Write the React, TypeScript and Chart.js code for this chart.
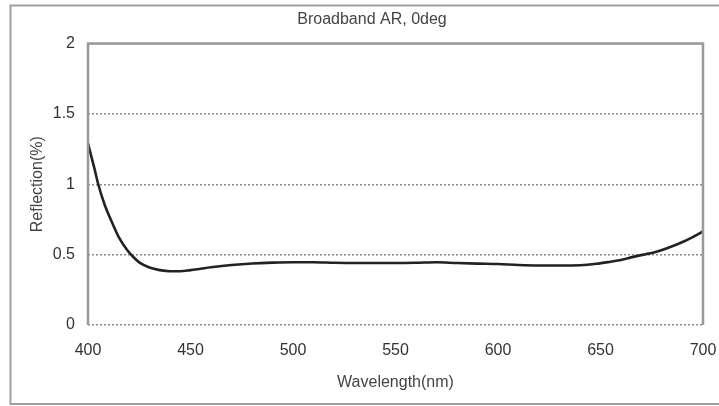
import React, { useEffect, useRef } from "react";
import { Chart, registerables } from "chart.js";

Chart.register(...registerables);

const CHART_TITLE = "Broadband AR, 0deg";
const X_TITLE = "Wavelength(nm)";
const Y_TITLE = "Reflection(%)";

const wavelengths = [
  400, 403, 405, 408, 412, 415, 419, 422, 425, 430, 435, 440, 445, 450, 455, 460,
  470, 480, 490, 500, 510, 520, 530, 540, 550, 560, 570, 580, 590, 600, 610, 620,
  630, 640, 648, 655, 660, 666, 672, 676, 680, 685, 690, 695, 700,
];
const reflection = [
  1.29, 1.12, 1.0, 0.86, 0.72, 0.625, 0.535, 0.485, 0.445, 0.408, 0.39, 0.382, 0.382, 0.39, 0.4, 0.41,
  0.426, 0.437, 0.443, 0.446, 0.446, 0.442, 0.44, 0.44, 0.44, 0.442, 0.446, 0.44, 0.436, 0.433, 0.426, 0.423,
  0.423, 0.425, 0.435, 0.45, 0.462, 0.484, 0.503, 0.515, 0.533, 0.56, 0.59, 0.625, 0.665,
];

const X_MIN = 400;
const X_MAX = 700;
const X_STEP = 50;
const Y_MIN = 0;
const Y_MAX = 2;
const Y_STEP = 0.5;

const FONT = "'Liberation Sans', Arial, sans-serif";

const framePlugin = {
  id: "frame",
  beforeDraw(chart: any) {
    const { ctx } = chart;
    ctx.save();
    ctx.fillStyle = "#ffffff";
    ctx.fillRect(0, 0, chart.width, chart.height);
    ctx.strokeStyle = "#a0a0a0";
    ctx.lineWidth = 2;
    ctx.strokeRect(10.5, 5.5, chart.width + 10, 398.5);
    ctx.restore();
  },
  afterDatasetsDraw(chart: any) {
    const { ctx, chartArea } = chart;
    const { left, right, top, bottom } = chartArea;
    ctx.save();
    ctx.strokeStyle = "#999999";
    ctx.lineWidth = 2.5;
    ctx.beginPath();
    ctx.moveTo(left, bottom);
    ctx.lineTo(left, top);
    ctx.lineTo(right, top);
    ctx.lineTo(right, bottom);
    ctx.stroke();
    ctx.fillStyle = "#444444";
    ctx.font = `16px ${FONT}`;
    ctx.textAlign = "center";
    ctx.textBaseline = "middle";
    ctx.fillText(CHART_TITLE, 372, 20);
    ctx.restore();
  },
};

export default function App() {
  const ref = useRef<HTMLCanvasElement | null>(null);

  useEffect(() => {
    if (!ref.current) return;
    const points = wavelengths.map((x, i) => ({ x, y: reflection[i] }));
    const chart = new Chart(ref.current, {
      type: "line",
      data: {
        datasets: [
          {
            data: points,
            borderColor: "#222222",
            borderWidth: 2.6,
            pointRadius: 0,
            cubicInterpolationMode: "monotone",
            fill: false,
          },
        ],
      },
      options: {
        animation: false,
        responsive: false,
        devicePixelRatio: 1,
        layout: { padding: { top: 43.5, right: 0, left: 0, bottom: 0 } },
        plugins: {
          legend: { display: false },
          tooltip: { enabled: false },
          title: { display: false },
        },
        scales: {
          x: {
            type: "linear",
            min: X_MIN,
            max: X_MAX,
            afterFit: (scale: any) => {
              scale.height = 81;
              scale.paddingRight = 16;
            },
            ticks: {
              stepSize: X_STEP,
              padding: 16,
              color: "#333333",
              font: { family: FONT, size: 16 },
              maxRotation: 0,
            },
            grid: { display: false, drawTicks: false },
            border: { display: false },
            title: {
              display: true,
              text: X_TITLE,
              color: "#444444",
              font: { family: FONT, size: 16 },
              padding: { top: 0, bottom: 14 },
            },
          },
          y: {
            min: Y_MIN,
            max: Y_MAX,
            afterFit: (scale: any) => {
              scale.width = 88;
            },
            ticks: {
              stepSize: Y_STEP,
              padding: 13,
              color: "#333333",
              font: { family: FONT, size: 16 },
              callback: (v: any) => String(Number(v)),
            },
            grid: {
              color: "#8a8a8a",
              lineWidth: 1.5,
              drawTicks: false,
            },
            border: { display: false, dash: [2, 2] },
            title: {
              display: true,
              text: Y_TITLE,
              color: "#444444",
              font: { family: FONT, size: 16 },
              padding: { top: 28, bottom: 0 },
            },
          },
        },
      },
      plugins: [framePlugin],
    } as any);
    return () => chart.destroy();
  }, []);

  return (
    <div style={{ position: "fixed", left: 0, top: 0, width: 719, height: 406, background: "#fff" }}>
      <canvas ref={ref} width={719} height={406} style={{ display: "block", width: 719, height: 406 }} />
    </div>
  );
}
